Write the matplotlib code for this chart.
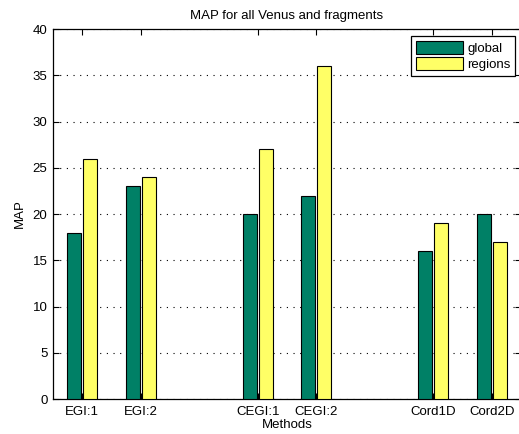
import numpy as np
import matplotlib
matplotlib.use('Agg')
import matplotlib.pyplot as plt

plt.rcParams['font.family'] = ['Liberation Sans', 'DejaVu Sans']

# MAP scores per method
methods = ['EGI:1', 'EGI:2', 'CEGI:1', 'CEGI:2', 'Cord1D', 'Cord2D']
positions = [1, 2, 4, 5, 7, 8]
global_map = [18, 23, 20, 22, 16, 20]
regions_map = [26, 24, 27, 36, 19, 17]

fig = plt.figure(figsize=(5.19, 4.34), dpi=100)
ax = fig.add_axes([0.1021, 0.0806, 0.9017, 0.8525])

x = np.array(positions, dtype=float)
w = 0.24
ax.bar(x - 0.14, global_map, w, color='#008066', edgecolor='black', linewidth=0.8, label='global', zorder=3)
ax.bar(x + 0.14, regions_map, w, color='#ffff66', edgecolor='black', linewidth=0.8, label='regions', zorder=3)

ax.set_xlim(0.5, 8.5)
ax.set_ylim(0, 40)
ax.set_xticks(positions)
ax.set_xticklabels(methods)
ax.set_yticks(range(0, 41, 5))
ax.yaxis.grid(True, linestyle=(0, (1, 5)), color='black', linewidth=0.8)
ax.tick_params(direction='in', top=True, right=True, labelsize=9.5, length=4)
ax.tick_params(axis='x', pad=5)
ax.tick_params(axis='y', pad=4)
for s in ax.spines.values():
    s.set_linewidth(0.9)

ax.set_title('MAP for all Venus and fragments', fontsize=9.5, pad=7)
ax.set_xlabel('Methods', fontsize=9.5, labelpad=1)
ax.set_ylabel('MAP', fontsize=9.5, labelpad=5)

leg = ax.legend(loc='upper right', bbox_to_anchor=(0.988, 0.981), fontsize=9.5, fancybox=False,
                edgecolor='black', framealpha=1, handlelength=3.6, handleheight=1.15,
                borderpad=0.35, labelspacing=0.2, handletextpad=0.3, borderaxespad=0)
leg.get_frame().set_linewidth(0.9)

plt.savefig('out.png', dpi=100)
